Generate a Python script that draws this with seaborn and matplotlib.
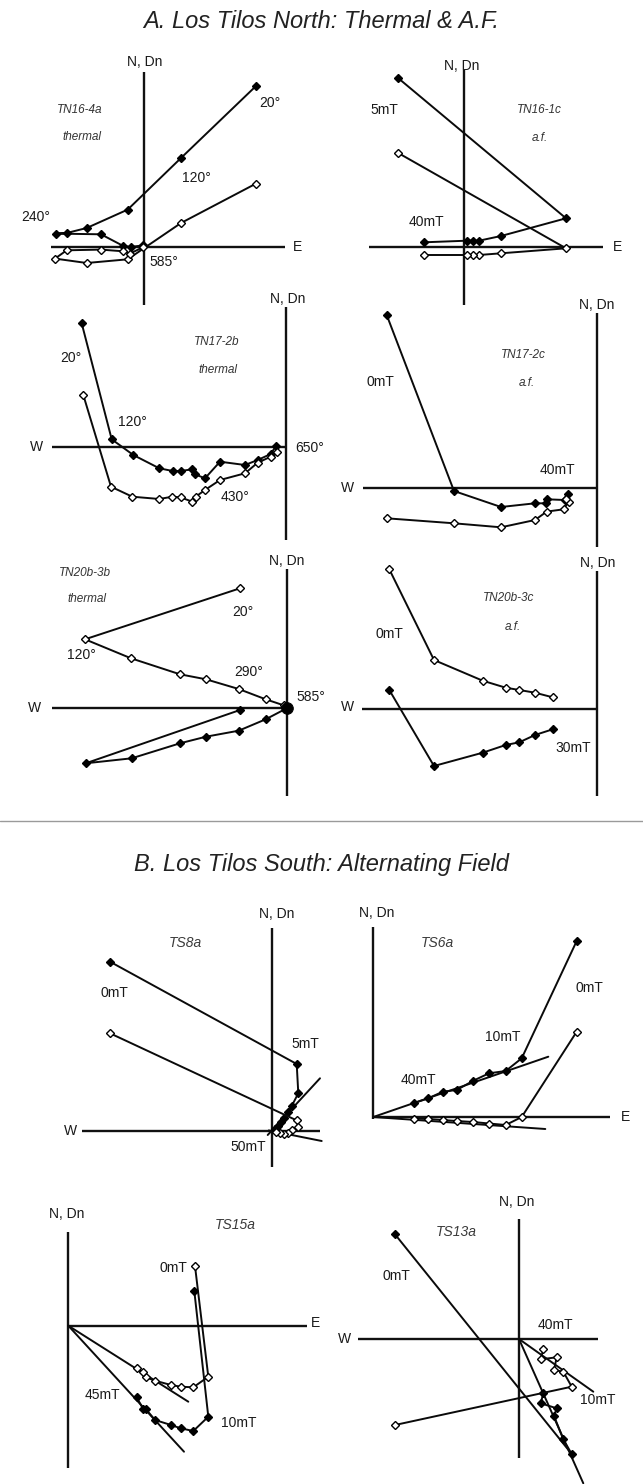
import matplotlib
matplotlib.use('Agg')
import matplotlib.pyplot as plt
import seaborn as sns

# ---------------- DATA (Zijderveld projections, relative units) ----------------
# A1  TN16-4a thermal
TN16_4A_FX = [112, 37, -16.3, -57.3, -77.3, -88, -43, -20.7, -13.3, -0.7]
TN16_4A_FY = [161, 89, 37.4, 19, 14, 13.4, 12.7, 1, 0, 1.7]
TN16_4A_OX = [112, 37, -16.3, -57.3, -89, -77.3, -43, -20.7, -14, -0.7]
TN16_4A_OY = [63.4, 24, -12.3, -16, -11.6, -3.3, -2.6, -4.3, -6.6, 0]
# A2  TN16-1c a.f.
TN16_1C_FX = [-66.3, 102, 37, 15, 8.7, 2.7, -40]
TN16_1C_FY = [169.3, 28.7, 11, 6.3, 6.3, 6.3, 4.7]
TN16_1C_OX = [-66.3, 102, 37, 15, 8.7, 2.7, -40]
TN16_1C_OY = [94.3, -1.3, -6.3, -8, -8, -8, -8]
# A3  TN17-2b thermal
TN17_2B_FX = [-204.3, -174.3, -152.7, -126.7, -113.3, -105.3, -93.7, -91, -81, -66, -41, -28.3, -15.3, -10]
TN17_2B_FY = [123.4, 7.4, -8.3, -21.6, -24.3, -24.3, -22.6, -27.6, -31.6, -15, -18.3, -13.3, -7.3, 0.7]
TN17_2B_OX = [-202.7, -175, -153.7, -126.7, -113.7, -105.3, -93.7, -90.3, -81, -66, -41, -28.3, -15.3, -8.7]
TN17_2B_OY = [51.7, -40, -50, -52.3, -50, -50.7, -55, -50, -43.3, -33.3, -26.6, -16, -10, -5]
# A4  TN17-2c a.f.
TN17_2C_FX = [-210, -142.7, -95.7, -61.7, -51, -50, -32, -29]
TN17_2C_FY = [173.3, -2.7, -18.7, -15, -15, -11, -11.7, -6]
TN17_2C_OX = [-210, -142.7, -95.7, -61.7, -50, -33, -28, -31]
TN17_2C_OY = [-30, -35, -39, -31.7, -23.3, -21, -13.3, -11]
# A5  TN20b-3b thermal
TN20B_3B_OX = [-46.7, -201.7, -155.7, -106.7, -80.7, -48, -21, -3, 0]
TN20B_3B_OY = [120, 69, 50, 34, 29, 19.3, 9, 3, 0]
TN20B_3B_FX = [-46.7, -201, -155, -106.7, -80.7, -48, -21, 0]
TN20B_3B_FY = [-1.7, -55, -50, -35, -28.4, -22.4, -11, 0]
# A6  TN20b-3c a.f.
TN20B_3C_OX = [-207.4, -162.7, -114, -91, -77.4, -61.7, -44]
TN20B_3C_OY = [139.7, 49, 28.3, 21.3, 19, 16.3, 11.7]
TN20B_3C_FX = [-207.4, -162.7, -114, -91, -77.4, -61.7, -44]
TN20B_3C_FY = [19, -57, -43.7, -36, -33.3, -26, -20.3]
# B1  TS8a
TS8A_FX = [-161.7, 25, 26.6, 20, 16, 12, 9, 6, 3]
TS8A_FY = [169.3, 67, 37.7, 25, 19, 13, 9, 5, 2]
TS8A_OX = [-161.7, 25, 26.6, 20, 16, 12, 8, 4]
TS8A_OY = [97.7, 10.6, 4, 1, -2, -3, -2, -1]
TS8A_FIT_FX = [-4, 48.3]
TS8A_FIT_FY = [-4, 52.7]
TS8A_FIT_OX = [-3, 50]
TS8A_FIT_OY = [0.6, -10]
# B2  TS6a
TS6A_FX = [203.4, 148.4, 132.4, 115.7, 100, 83.4, 69.4, 55, 41]
TS6A_FY = [176, 58.7, 46, 43.7, 36.3, 27, 25.3, 18.7, 14]
TS6A_OX = [203.4, 148.4, 132.4, 115.7, 100, 83.4, 69.4, 55, 41]
TS6A_OY = [85.3, 0, -8, -6.5, -5, -4, -3, -2, -1.5]
TS6A_FIT_FX = [0, 175]
TS6A_FIT_FY = [0, 60.3]
TS6A_FIT_OX = [0, 172]
TS6A_FIT_OY = [0, -12]
# B3  TS15a
TS15A_OX = [126.7, 140, 125, 112.4, 102.7, 86.7, 77.7, 75, 68.4]
TS15A_OY = [59.7, -51, -61.6, -61, -59.3, -55, -51.6, -46.6, -42.6]
TS15A_FX = [126, 140, 125, 112.4, 102.7, 86.7, 77.7, 75, 68.4]
TS15A_FY = [34.7, -91, -105.3, -102.6, -99.3, -94.3, -83.6, -83.6, -71.6]
TS15A_FIT_OX = [0, 120]
TS15A_FIT_OY = [0, -76]
TS15A_FIT_FX = [0, 115.7]
TS15A_FIT_FY = [0, -126]
# B4  TS13a
TS13A_FX = [-124, 52.7, 44.3, 35, 37.7, 21.7, 24.3]
TS13A_FY = [104.7, -115, -100.3, -77, -69.3, -64.3, -54.3]
TS13A_OX = [-124, 52.7, 44.3, 35, 37.7, 21.7, 24.3]
TS13A_OY = [-86, -47.7, -32.7, -31, -18.3, -20.3, -10.3]
TS13A_FIT_FX = [0, 64.3]
TS13A_FIT_FY = [0, -144.3]
TS13A_FIT_OX = [0, 74.3]
TS13A_FIT_OY = [0, -52.7]

TITLE_A = "A. Los Tilos North: Thermal & A.F."
TITLE_B = "B. Los Tilos South: Alternating Field"

# ---------------- LAYOUT (pixels) ----------------
W, H = 643, 1484
sns.set_theme(style='white')
plt.rcParams['font.family'] = ['Liberation Sans', 'DejaVu Sans']

fig = plt.figure(figsize=(W / 100, H / 100), dpi=100)
fig.patch.set_facecolor('white')

LW = 1.4
AXW = 1.7
MS = 4.2


def panel(ox, oy, vtop, vbot, hl, hr):
    ax = fig.add_axes([0, 0, 1, 1])
    ax.set_xlim(-ox, W - ox)
    ax.set_ylim(oy - H, oy)
    ax.axis('off')
    ax.patch.set_alpha(0)
    ax.plot([0, 0], [oy - vtop, oy - vbot], color='#111111', lw=AXW, solid_capstyle='butt')
    ax.plot([hl - ox, hr - ox], [0, 0], color='#111111', lw=AXW, solid_capstyle='butt')
    return ax


def path(ax, xs, ys, filled, marker=True):
    kw = dict(sort=False, estimator=None, ax=ax, color='#0a0a0a', linewidth=LW, clip_on=False)
    if marker:
        kw.update(marker='D', markersize=MS, markeredgecolor='black', markeredgewidth=1.0,
                  markerfacecolor='black' if filled else 'white')
    sns.lineplot(x=xs, y=ys, **kw)


def txt(x, y, s, size=10, ha='center', style='normal', family=None, color='#1a1a1a'):
    fig.text(x / W, 1 - y / H, s, ha=ha, va='center', fontsize=size, style=style,
             color=color, family=family or ['Liberation Sans', 'DejaVu Sans'])


NARROW = ['Liberation Sans Narrow', 'Liberation Sans', 'DejaVu Sans']


def sample(x, y, s):
    txt(x, y, s, size=8.5, style='italic', family=NARROW, color='#333333')


# Titles
txt(321, 22, TITLE_A, size=17, style='italic', color='#222222')
txt(321, 864, TITLE_B, size=17, style='italic', color='#222222')
fig.add_artist(plt.Line2D([0, 1], [1 - 821 / H, 1 - 821 / H], color='#9a9a9a', lw=1.0))

# A1
ax = panel(144, 247, 72, 305, 51, 285)
path(ax, TN16_4A_FX, TN16_4A_FY, True)
path(ax, TN16_4A_OX, TN16_4A_OY, False)
txt(145, 62, "N, Dn"); txt(298, 247, "E")
sample(80, 110, "TN16-4a"); sample(82, 137, "thermal")
txt(270, 103, "20°"); txt(196, 178, "120°"); txt(36, 217, "240°"); txt(164, 262, "585°")

# A2
ax = panel(464, 247, 70, 305, 369, 603)
path(ax, TN16_1C_FX, TN16_1C_FY, True)
path(ax, TN16_1C_OX, TN16_1C_OY, False)
txt(462, 66, "N, Dn"); txt(617, 247, "E")
sample(539, 110, "TN16-1c"); sample(540, 138, "a.f.")
txt(384, 110, "5mT"); txt(426, 222, "40mT")

# A3
ax = panel(286, 446.7, 307, 540, 52, 286)
path(ax, TN17_2B_FX, TN17_2B_FY, True)
path(ax, TN17_2B_OX, TN17_2B_OY, False)
txt(288, 299, "N, Dn"); txt(37, 447, "W"); txt(295, 448, "650°", ha='left')
sample(217, 342, "TN17-2b"); sample(218, 370, "thermal")
txt(71, 358, "20°"); txt(132, 422, "120°"); txt(235, 497, "430°")

# A4
ax = panel(596.7, 488.3, 313, 547, 363, 596.7)
path(ax, TN17_2C_FX, TN17_2C_FY, True)
path(ax, TN17_2C_OX, TN17_2C_OY, False)
txt(597, 305, "N, Dn"); txt(347, 488, "W")
sample(523, 355, "TN17-2c"); sample(527, 383, "a.f.")
txt(380, 382, "0mT"); txt(557, 470, "40mT")

# A5
ax = panel(286.7, 708.3, 569, 796, 52, 286.7)
path(ax, TN20B_3B_OX, TN20B_3B_OY, False)
path(ax, TN20B_3B_FX, TN20B_3B_FY, True)
sns.scatterplot(x=TN20B_3B_FX[-1:], y=TN20B_3B_FY[-1:], s=70, color='black', ax=ax,
                edgecolor='black', clip_on=False, zorder=5)
txt(287, 561, "N, Dn"); txt(35, 708, "W"); txt(296, 697, "585°", ha='left')
sample(85, 573, "TN20b-3b"); sample(87, 599, "thermal")
txt(243, 612, "20°"); txt(81, 655, "120°"); txt(249, 672, "290°")

# A6
ax = panel(596.7, 709, 571, 796, 362, 596.7)
path(ax, TN20B_3C_OX, TN20B_3C_OY, False)
path(ax, TN20B_3C_FX, TN20B_3C_FY, True)
txt(598, 563, "N, Dn"); txt(347, 707, "W")
sample(509, 598, "TN20b-3c"); sample(513, 627, "a.f.")
txt(389, 634, "0mT"); txt(573, 748, "30mT")

# B1
ax = panel(271.7, 1131, 928, 1167, 82, 320)
path(ax, TS8A_FIT_FX, TS8A_FIT_FY, True, marker=False)
path(ax, TS8A_FIT_OX, TS8A_FIT_OY, False, marker=False)
path(ax, TS8A_FX, TS8A_FY, True)
path(ax, TS8A_OX, TS8A_OY, False)
txt(277, 914, "N, Dn"); txt(70, 1131, "W")
txt(185, 943, "TS8a", style='italic', color='#3a3a3a')
txt(114, 993, "0mT"); txt(305, 1044, "5mT"); txt(248, 1147, "50mT")

# B2
ax = panel(373.3, 1117, 927, 1119, 373.3, 610)
path(ax, TS6A_FIT_FX, TS6A_FIT_FY, True, marker=False)
path(ax, TS6A_FIT_OX, TS6A_FIT_OY, False, marker=False)
path(ax, TS6A_FX, TS6A_FY, True)
path(ax, TS6A_OX, TS6A_OY, False)
txt(377, 913, "N, Dn"); txt(625, 1117, "E")
txt(437, 943, "TS6a", style='italic', color='#3a3a3a')
txt(589, 988, "0mT"); txt(503, 1037, "10mT"); txt(418, 1080, "40mT")

# B3
ax = panel(68.3, 1325.7, 1232, 1468, 68.3, 306.7)
path(ax, TS15A_FIT_OX, TS15A_FIT_OY, False, marker=False)
path(ax, TS15A_FIT_FX, TS15A_FIT_FY, True, marker=False)
path(ax, TS15A_OX, TS15A_OY, False)
path(ax, TS15A_FX, TS15A_FY, True)
txt(67, 1214, "N, Dn"); txt(315, 1323, "E")
txt(235, 1225, "TS15a", style='italic', color='#3a3a3a')
txt(173, 1268, "0mT"); txt(102, 1395, "45mT"); txt(239, 1423, "10mT")

# B4
ax = panel(519, 1339, 1219, 1458, 358.3, 598.3)
path(ax, TS13A_FIT_FX, TS13A_FIT_FY, True, marker=False)
path(ax, TS13A_FIT_OX, TS13A_FIT_OY, False, marker=False)
path(ax, TS13A_FX, TS13A_FY, True)
path(ax, TS13A_OX, TS13A_OY, False)
txt(517, 1202, "N, Dn"); txt(344, 1339, "W")
txt(456, 1232, "TS13a", style='italic', color='#3a3a3a')
txt(396, 1276, "0mT"); txt(555, 1325, "40mT"); txt(598, 1400, "10mT")

fig.savefig('out.png', dpi=100, facecolor='white')
